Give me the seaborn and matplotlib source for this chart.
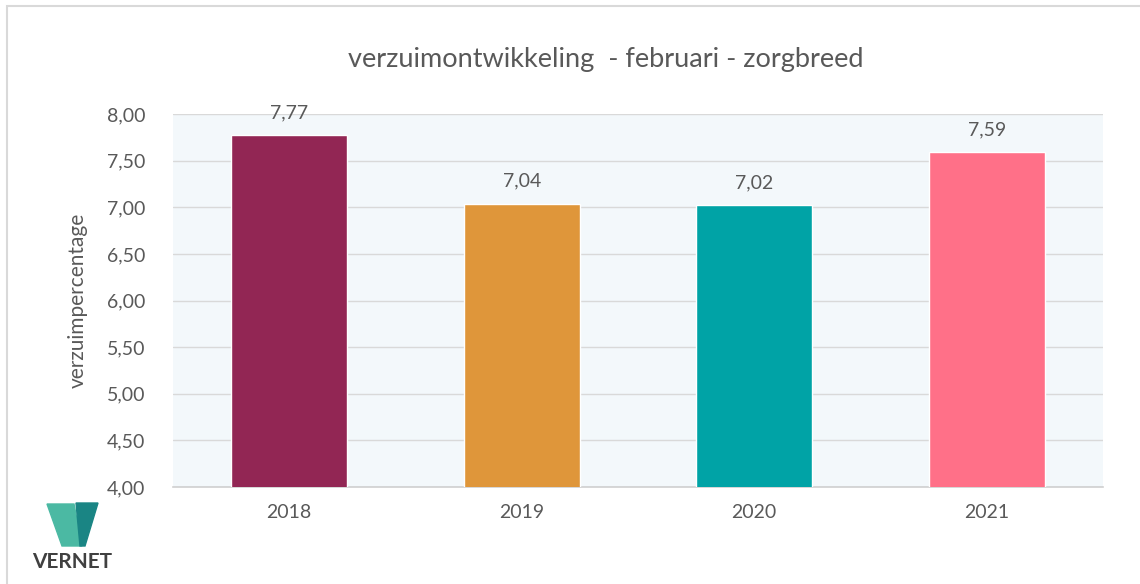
import numpy as np
import matplotlib.pyplot as plt
import matplotlib.patches as mpatches
import seaborn as sns
import pandas as pd

jaren = ['2018', '2019', '2020', '2021']
verzuim = [7.77, 7.04, 7.02, 7.59]
kleuren = ['#922654', '#DF963A', '#00A3A6', '#FF7088']
yticks = [4.0, 4.5, 5.0, 5.5, 6.0, 6.5, 7.0, 7.5, 8.0]

sns.set_theme(style='white')
plt.rcParams['font.family'] = ['Lato', 'DejaVu Sans']
grijs = '#595959'

df = pd.DataFrame({'jaar': jaren, 'verzuim': verzuim})

fig = plt.figure(figsize=(11.4, 5.84), dpi=100)
ax = fig.add_axes([173 / 1140, 1 - 487 / 584, 930 / 1140, 373 / 584])

# rand om de grafiek
fig.patches.append(mpatches.Rectangle((7 / 1140, -0.1), 1.2, 1 - 6 / 584 + 0.1,
                                      transform=fig.transFigure, fill=False,
                                      edgecolor='#D9D9D9', linewidth=1.5))

ax.set_facecolor('#F3F8FB')
sns.barplot(data=df, x='jaar', y='verzuim', hue='jaar', palette=kleuren,
            saturation=1, legend=False, width=0.5, ax=ax, zorder=3)

ax.set_ylim(4, 8)
ax.set_yticks(yticks)
ax.set_yticklabels([f'{t:.2f}'.replace('.', ',') for t in yticks])
ax.grid(axis='y', color='#D9D9D9', linewidth=1, zorder=0)
ax.set_axisbelow(True)
for kant in ['top', 'right', 'left']:
    ax.spines[kant].set_visible(False)
ax.spines['bottom'].set_color('#D0D0D0')
ax.spines['bottom'].set_linewidth(1.2)
ax.tick_params(axis='both', length=0, colors=grijs, labelsize=14, pad=12)
ax.tick_params(axis='y', pad=20)

for cont in ax.containers:
    ax.bar_label(cont, labels=[f'{v:.2f}'.replace('.', ',') for v in cont.datavalues],
                 padding=10, fontsize=14, color=grijs)

ax.set_xlabel('')
ax.set_ylabel('verzuimpercentage', fontsize=15, color=grijs, labelpad=14)
fig.suptitle('verzuimontwikkeling  - februari - zorgbreed', fontsize=19.5,
             color=grijs, x=606 / 1140, y=1 - 60 / 584, va='center')

# logo
fig.patches.append(mpatches.Polygon([[47 / 1140, 1 - 504 / 584], [74 / 1140, 1 - 504 / 584],
                                     [82 / 1140, 1 - 546 / 584], [62 / 1140, 1 - 546 / 584]],
                                    closed=True, transform=fig.transFigure, color='#4BB9A3'))
fig.patches.append(mpatches.Polygon([[76 / 1140, 1 - 503 / 584], [98 / 1140, 1 - 503 / 584],
                                     [85 / 1140, 1 - 546 / 584], [80 / 1140, 1 - 546 / 584]],
                                    closed=True, transform=fig.transFigure, color='#1A8584'))
fig.text(72 / 1140, 1 - 562 / 584, 'VERNET', ha='center', va='center', fontsize=15,
         fontweight='bold', color='#404040')

fig.savefig('out.png', dpi=100, facecolor='white')
